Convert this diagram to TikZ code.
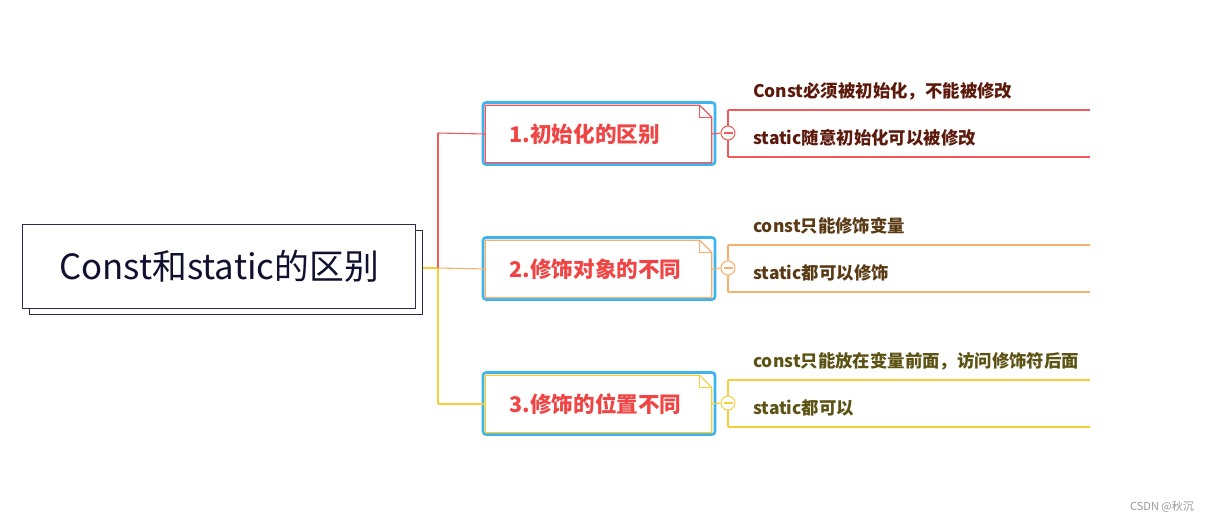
\documentclass[tikz,border=0pt]{standalone}
\usepackage{fontspec}
\setmainfont{Noto Sans CJK SC}
\newfontfamily\cjk{Noto Sans CJK SC}
\usetikzlibrary{calc}
\definecolor{cred}{HTML}{F25A5A}
\definecolor{corange}{HTML}{F9AE6B}
\definecolor{cyellow}{HTML}{F5CF3B}
\definecolor{cblue}{HTML}{3CB4F0}
\definecolor{ctext}{HTML}{F04545}
\definecolor{sub1}{HTML}{5C1A0C}
\definecolor{sub2}{HTML}{5A3A14}
\definecolor{sub3}{HTML}{5C5214}
\definecolor{mainb}{HTML}{2B2B4B}
\definecolor{maint}{HTML}{101030}
\tikzset{
  mainbox/.style={draw=mainb, line width=1pt, fill=white, minimum width=393pt, minimum height=84pt, inner sep=0pt},
  selbox/.style={draw=cblue, line width=2.6pt, rounded corners=3pt, minimum width=232pt, minimum height=62pt, inner sep=0pt},
  topic/.style={minimum width=226pt, minimum height=57pt, text width=178pt, align=left, inner xsep=24pt, inner ysep=0pt,
     font=\cjk\bfseries\fontsize{21.6}{24}\selectfont, text=ctext},
  subtext/.style={anchor=west, inner sep=0pt, font=\cjk\bfseries\fontsize{17.4}{20}\selectfont},
  collapse/.style={circle, draw=#1, fill=white, line width=1pt, minimum size=14pt, inner sep=0pt},
  conn/.style={draw=#1, line width=1.1pt},
}
\begin{document}
\begin{tikzpicture}[x=1pt,y=-1pt]
\useasboundingbox (0,0) rectangle (1209,523);
% main topic
\node[mainbox] (mainshadow) at (226,272) {};
\node[mainbox, font=\cjk\fontsize{34.8}{40}\selectfont, text=maint] (main) at (219,266) {Const和static的区别};
% trunk coordinates
\coordinate (tr0) at (438,268);
\coordinate (tr1) at (438,133);
\coordinate (tr3) at (438,404);
\coordinate (ms) at (mainshadow.east |- tr0);
% topic boxes
\foreach \i/\y/\c/\t in {1/133/cred/1.初始化的区别, 2/268/corange/2.修饰对象的不同, 3/403/cyellow/3.修饰的位置不同}{
  \node[selbox] (sel\i) at (599,\y+0.5) {};
  \node[topic] (n\i) at (598.5,\y+1) {\t};
  \draw[\c, line width=1.2pt, fill=white] (n\i.north west) -- ($(n\i.north east)+(-12,0)$) -- ($(n\i.north east)+(0,12)$) -- (n\i.south east) -- (n\i.south west) -- cycle;
  \draw[\c, line width=1pt] ($(n\i.north east)+(-12,0)$) -- ($(n\i.north east)+(-12,12)$) -- ($(n\i.north east)+(0,12)$);
  \node[topic] (lbl\i) at (n\i) {\t};
}
% trunk connectors
\draw[conn=cyellow] (ms) -- (tr0);
\draw[conn=cred] (tr1) -- (tr0);
\draw[conn=cyellow] (tr0) -- (tr3);
\draw[conn=cred] (tr1) -- (n1.west);
\draw[conn=corange] (tr0) -- (n2.west);
\draw[conn=cyellow] (tr3) -- (n3.west);
% sub branches
\foreach \i/\y/\c in {1/133/cred, 2/268/corange, 3/403/cyellow}{
  \coordinate (bt\i) at (728,\y-23);
  \coordinate (bb\i) at (728,\y+24);
  \coordinate (et\i) at (1090,\y-23);
  \coordinate (eb\i) at (1090,\y+24);
  \draw[conn=\c] (bt\i) -- (bb\i);
  \draw[conn=\c] (bt\i) -- (et\i);
  \draw[conn=\c] (bb\i) -- (eb\i);
  \node[collapse=\c] (c\i) at (728,\y) {};
  \draw[conn=\c] (n\i.east) -- (c\i.west);
  \draw[conn=\c] ($(c\i.west)+(3,0)$) -- ($(c\i.east)+(-3,0)$);
}
\node[subtext, text=sub1] (s11) at (753,91) {Const必须被初始化，不能被修改};
\node[subtext, text=sub1] (s12) at (753,138) {static随意初始化可以被修改};
\node[subtext, text=sub2] (s21) at (753,226) {const只能修饰变量};
\node[subtext, text=sub2] (s22) at (753,273) {static都可以修饰};
\node[subtext, text=sub3] (s31) at (753,361) {const只能放在变量前面，访问修饰符后面};
\node[subtext, text=sub3] (s32) at (753,408) {static都可以};
% watermark
\node[anchor=east, inner sep=0pt, font=\cjk\fontsize{11}{13}\selectfont, text=gray!80] (wm) at (1194,507) {CSDN @秋沉};
\end{tikzpicture}
\end{document}
